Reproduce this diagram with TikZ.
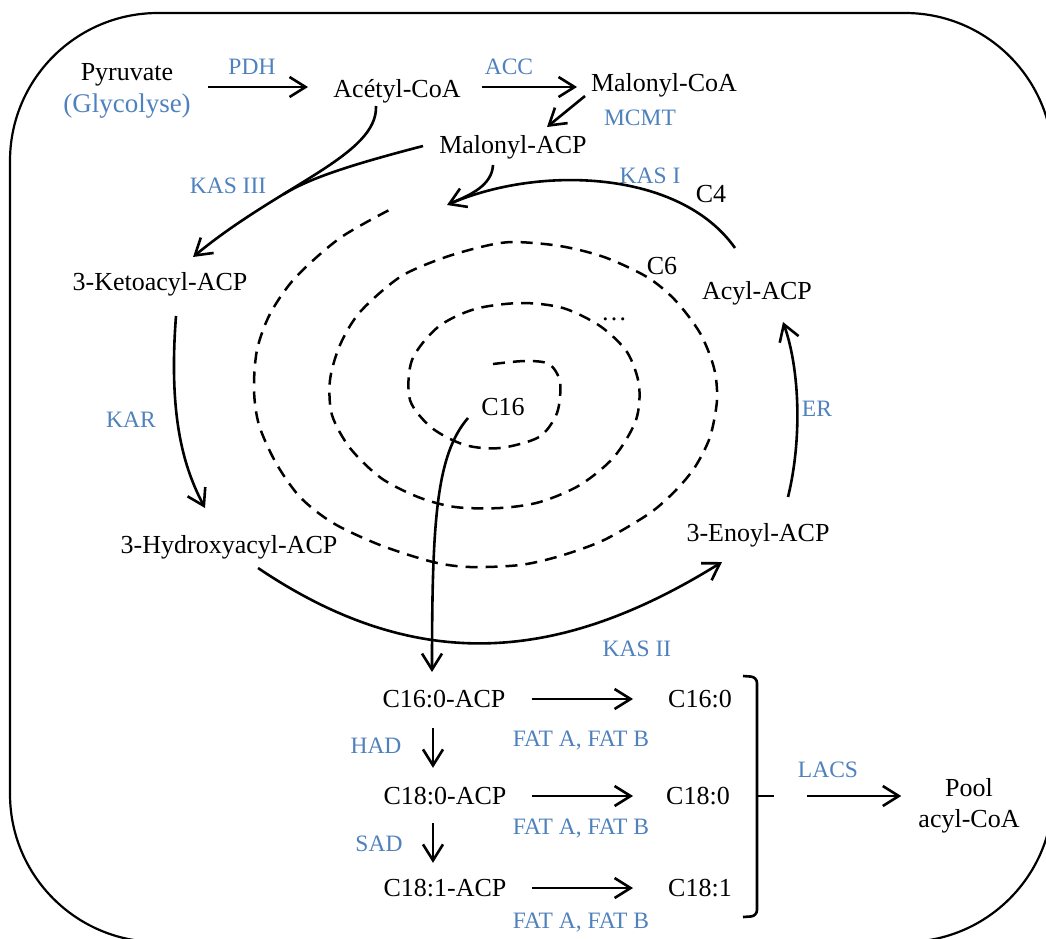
\documentclass[tikz,border=0pt]{standalone}
\usepackage{fontspec}
\setmainfont{Liberation Serif}
\usetikzlibrary{arrows.meta,calc}
\definecolor{enzblue}{RGB}{79,129,189}
\begin{document}
\begin{tikzpicture}[x=1pt,y=-1pt,
  lbl/.style={inner sep=0pt, font=\fontsize{26}{31}\selectfont, text height=20pt, text depth=4pt},
  enz/.style={inner sep=0pt, font=\fontsize{23.5}{28}\selectfont, text=enzblue, text height=18pt, text depth=4pt},
  arr/.style={line width=2.6pt, -{Straight Barb[length=16pt,width=20pt]}},
  link/.style={line width=2.6pt},
  spiral/.style={line width=2.5pt, dash pattern=on 12pt off 8pt},
  frame/.style={line width=2.2pt, rounded corners=148pt}]
\useasboundingbox (0,0) rectangle (1046,938);
\draw[frame] (10,13) rectangle (1053,942);

% metabolites
\node[lbl] (pyr) at (127,72) {Pyruvate};
\node[lbl, text=enzblue, font=\fontsize{27}{31}\selectfont] (glyc) at (127,104) {(Glycolyse)};
\node[lbl] (acetyl) at (397,89) {Acétyl-CoA};
\node[lbl] (malcoa) at (664,83) {Malonyl-CoA};
\node[lbl] (malacp) at (513,145) {Malonyl-ACP};
\node[lbl] (keto) at (160,282) {3-Ketoacyl-ACP};
\node[lbl] (c4) at (711,194) {C4};
\node[lbl] (c6) at (662,266) {C6};
\node[lbl] (acyl) at (757,291) {Acyl-ACP};
\node[lbl] (dots) at (614,312) {…};
\node[lbl] (c16) at (503,407) {C16};
\node[lbl] (hydroxy) at (229,545) {3-Hydroxyacyl-ACP};
\node[lbl] (enoyl) at (758,533) {3-Enoyl-ACP};
\node[lbl] (c160acp) at (444,699) {C16:0-ACP};
\node[lbl] (c160) at (700,699) {C16:0};
\node[lbl] (c180acp) at (445,796) {C18:0-ACP};
\node[lbl] (c180) at (698,796) {C18:0};
\node[lbl] (c181acp) at (445,888) {C18:1-ACP};
\node[lbl] (c181) at (700,888) {C18:1};
\node[inner sep=0pt, font=\fontsize{26}{31}\selectfont, align=center] (pool) at (969,806) {Pool\\acyl-CoA};

% enzymes
\node[enz] (pdh) at (252,67) {PDH};
\node[enz] (acc) at (509,67) {ACC};
\node[enz] (mcmt) at (640,118) {MCMT};
\node[enz] (kas3) at (228,186) {KAS III};
\node[enz] (kas1) at (650,176) {KAS I};
\node[enz] (kar) at (131,420) {KAR};
\node[enz] (er) at (817,409) {ER};
\node[enz] (kas2) at (637,649) {KAS II};
\node[enz] (fat1) at (581,739) {FAT A, FAT B};
\node[enz] (fat2) at (581,827) {FAT A, FAT B};
\node[enz] (fat3) at (581,921) {FAT A, FAT B};
\node[enz] (had) at (376,746) {HAD};
\node[enz] (sad) at (379,844) {SAD};
\node[enz] (lacs) at (828,770) {LACS};

% spiral
\draw[spiral] plot[smooth] coordinates {
(493,364) (525,361) (549,364) (560,382) (557,413) (539,437) (500,448) (465,445)
(432,428) (410,400) (412,360) (438,327) (475,309) (521,303) (563,308) (600,326)
(627,352) (639,385) (636,420) (614,457) (580,485) (540,502) (500,508) (455,507)
(418,497) (381,478) (350,448) (332,415) (330,380) (340,345) (360,312) (400,277)
(443,258) (485,246) (514,242) (560,246) (604,257) (647,277) (675,300) (700,333)
(714,368) (717,400) (710,437) (695,467) (676,490) (650,513) (604,540) (560,556)
(520,565) (470,567) (433,562) (380,545) (333,523) (300,497) (276,463) (259,425)
(254,390) (257,350) (270,314) (295,278) (340,238) (393,208)};

% top connectors
\draw[arr] ($(pyr)+(81,15)$) -- ($(acetyl)+(-89,-2)$);
\draw[arr] ($(acetyl)+(85,-2)$) -- ($(malcoa)+(-87,4)$);
\draw[arr] ($(malcoa)+(-79,13)$) -- ($(malacp)+(34,-18)$);
\draw[arr] ($(acetyl)+(-21,17)$) .. controls +(2,49) and +(87,-72) .. ($(keto)+(33,-25)$) coordinate[pos=0.65] (merge);
\draw[link] ($(malacp)+(-90,1)$) .. controls +(-73,19) and +(26,-16) .. (merge);

% cycle
\coordinate (kas1tip) at ($(malacp)+(-66,60)$);
\draw[arr] ($(acyl)+(-22,-43)$) .. controls +(-55,-78) and +(93,-40) .. (kas1tip);
\draw[link] ($(malacp)+(-20,20)$) .. controls +(-1,20) and +(20,-8) .. ($(kas1tip)+(4,-2)$);
\draw[arr] ($(keto)+(16,34)$) .. controls +(-8,104) and +(-20,-38) .. ($(hydroxy)+(-24,-37)$);
\draw[arr] ($(hydroxy)+(29,23)$) .. controls +(160,108) and +(-161,100) .. ($(enoyl)+(-36,29)$);
\draw[arr] ($(enoyl)+(30,-36)$) .. controls +(14,-57) and +(17,48) .. ($(acyl)+(26,31)$);
\draw[arr] ($(c16)+(-35,11)$) .. controls +(-32,37) and +(0,-150) .. ($(c160acp)+(-12,-27)$);

% bottom
\draw[arr, shorten <=26pt, shorten >=35pt] (c160acp.east) -- (c160.west);
\draw[arr, shorten <=25pt, shorten >=33pt] (c180acp.east) -- (c180.west);
\draw[arr, shorten <=25pt, shorten >=35pt] (c181acp.east) -- (c181.west);
\draw[arr] ($(c160acp.south)+(-11,17)$) -- ($(c180acp.north)+(-12,-16)$);
\draw[arr] ($(c180acp.south)+(-12,15)$) -- ($(c181acp.north)+(-12,-13)$);

\draw[link, rounded corners=6pt] (743,676) -- (757,677) -- (757,916) -- (743,917);
\coordinate (brk) at (774,796);
\draw[link] (756,796) -- (brk);
\draw[arr, shorten <=33pt, shorten >=17pt] (brk) -- (brk -| pool.west);
\end{tikzpicture}
\end{document}
